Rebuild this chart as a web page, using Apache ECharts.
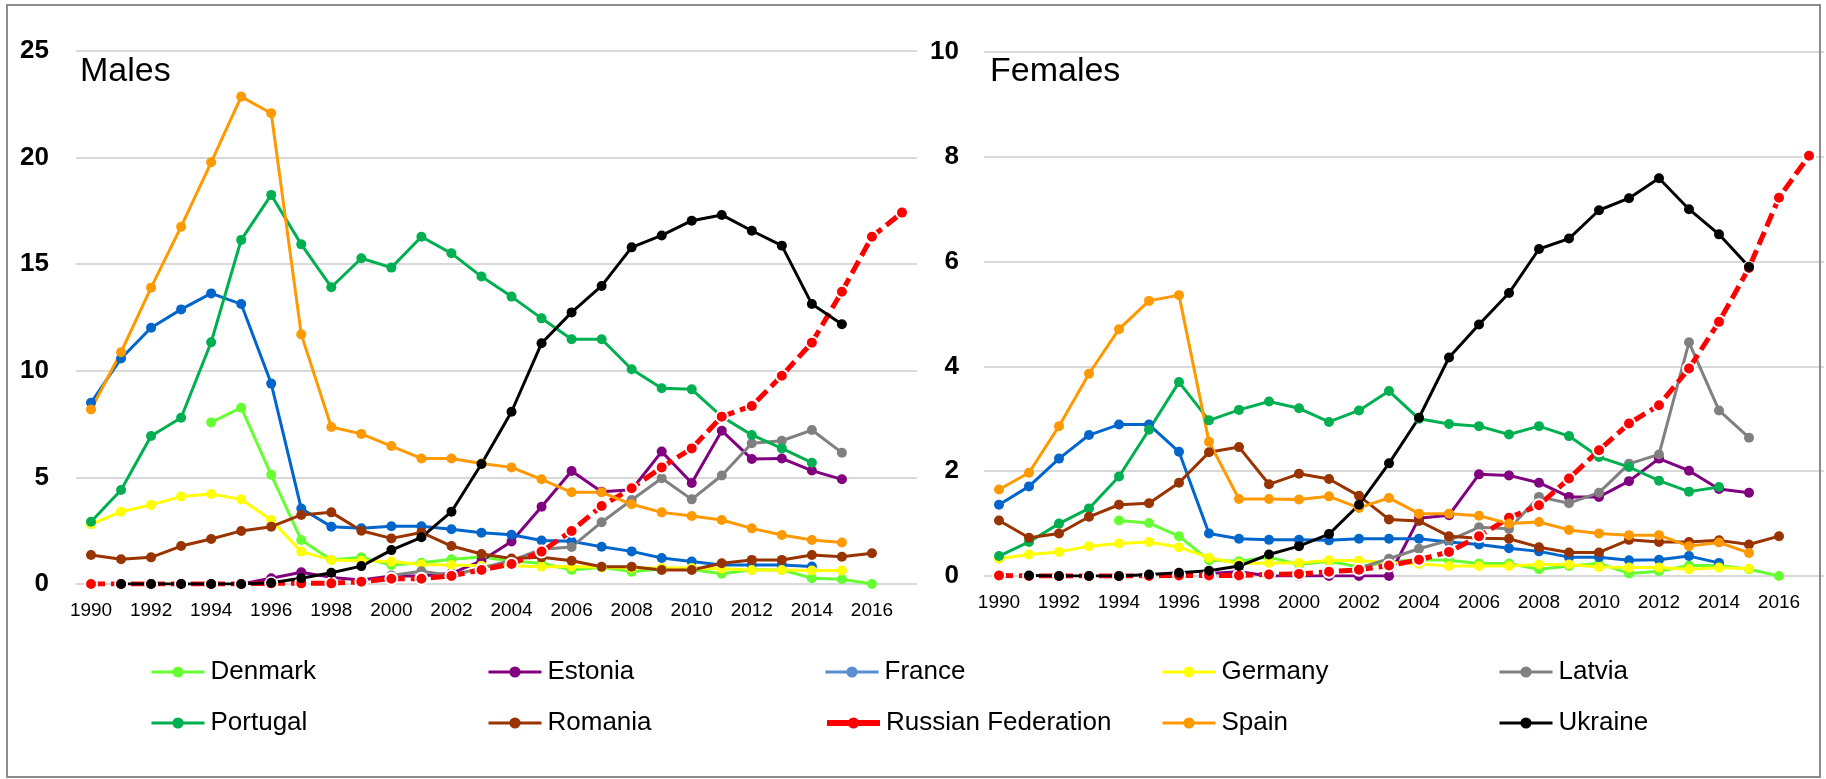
<!DOCTYPE html>
<html>
<head>
<meta charset="utf-8">
<script src="https://cdn.jsdelivr.net/npm/echarts@6/dist/echarts.min.js"></script>
<style>
  html, body { margin: 0; padding: 0; background: #fff; }
  #chart { width: 1826px; height: 779px; }
</style>
</head>
<body>
<div id="chart"></div>
<script>
// ---- Data (rates, 1990..2017) ----
const years = ['1990','1991','1992','1993','1994','1995','1996','1997','1998','1999','2000','2001','2002','2003','2004','2005','2006','2007','2008','2009','2010','2011','2012','2013','2014','2015','2016','2017'];
const countries = ['Denmark','Estonia','France','Germany','Latvia','Portugal','Romania','Russian Federation','Spain','Ukraine'];
const colors = ['#66FF33','#800080','#0066CC','#FFFF00','#808080','#00B050','#993300','#FF0000','#FF9900','#000000'];

// Males
const denmarkM  = [null,null,null,null,7.58,8.27,5.12,2.06,1.13,1.25,0.89,1.0,1.16,1.27,1.08,0.97,0.66,0.78,0.58,0.72,0.68,0.48,0.67,0.66,0.27,0.22,0.0,null];
const estoniaM  = [null,null,null,null,null,0,0.27,0.55,0.31,0.19,0.38,0.38,0.5,1.09,1.99,3.62,5.3,4.33,4.42,6.21,4.74,7.19,5.86,5.89,5.32,4.91,null,null];
const franceM   = [8.5,10.58,12.02,12.88,13.63,13.13,9.4,3.54,2.69,2.61,2.71,2.71,2.57,2.4,2.31,2.04,2.0,1.75,1.53,1.22,1.05,0.89,0.89,0.89,0.82,null,null,null];
const germanyM  = [2.8,3.39,3.71,4.1,4.22,3.97,3.0,1.52,1.13,1.09,1.05,0.92,0.89,0.86,0.86,0.81,0.82,0.78,0.75,0.75,0.75,0.72,0.66,0.66,0.63,0.63,null,null];
const latviaM   = [null,null,null,null,null,null,null,null,null,null,0.4,0.6,0.4,0.75,1.1,1.63,1.74,2.9,3.94,4.96,3.97,5.09,6.6,6.72,7.22,6.16,null,null];
const portugalM = [2.92,4.41,6.94,7.8,11.34,16.14,18.25,15.93,13.92,15.28,14.84,16.29,15.51,14.42,13.48,12.46,11.48,11.48,10.07,9.18,9.13,7.85,6.99,6.36,5.69,null,null,null];
const romaniaM  = [1.36,1.16,1.25,1.78,2.11,2.49,2.69,3.24,3.36,2.5,2.14,2.42,1.78,1.41,1.2,1.25,1.09,0.81,0.81,0.66,0.66,0.97,1.13,1.13,1.36,1.28,1.44,null];
const russiaM   = [0,0,0,0,0,0,0.03,0.03,0.03,0.11,0.25,0.25,0.38,0.66,0.94,1.52,2.49,3.66,4.49,5.47,6.36,7.85,8.35,9.77,11.32,13.71,16.29,17.42];
const spainM    = [8.19,10.87,13.9,16.76,19.78,22.86,22.08,11.71,7.36,7.04,6.47,5.89,5.89,5.65,5.47,4.91,4.3,4.3,3.74,3.36,3.19,3.0,2.61,2.3,2.06,1.95,null,null];
const ukraineM  = [null,0,0,0,0,0,0.06,0.27,0.53,0.84,1.59,2.19,3.39,5.63,8.08,11.29,12.74,13.98,15.79,16.35,17.04,17.31,16.57,15.87,13.13,12.18,null,null];

// Females
const denmarkF  = [null,null,null,null,1.06,1.01,0.76,0.3,0.28,0.36,0.22,0.28,0.17,0.27,0.31,0.3,0.24,0.24,0.13,0.19,0.24,0.05,0.09,0.2,0.2,0.13,0.0,null];
const estoniaF  = [null,null,null,null,null,null,null,0.05,0.08,0,0,0,0,0,1.1,1.16,1.94,1.92,1.78,1.51,1.51,1.81,2.24,2.01,1.66,1.59,null,null];
const franceF   = [1.36,1.71,2.24,2.69,2.89,2.89,2.37,0.81,0.71,0.69,0.69,0.68,0.71,0.71,0.71,0.65,0.6,0.53,0.47,0.36,0.36,0.3,0.31,0.38,0.25,null,null,null];
const germanyF  = [0.33,0.41,0.46,0.57,0.62,0.65,0.55,0.35,0.24,0.25,0.25,0.3,0.29,0.26,0.23,0.19,0.19,0.19,0.22,0.22,0.17,0.16,0.16,0.13,0.16,0.14,null,null];
const latviaF   = [null,null,null,null,null,null,null,null,null,null,null,null,0.15,0.33,0.52,0.68,0.93,0.9,1.51,1.39,1.59,2.14,2.32,4.46,3.16,2.64,null,null];
const portugalF = [0.38,0.65,1.0,1.29,1.9,2.79,3.7,2.97,3.17,3.33,3.2,2.94,3.16,3.53,3.0,2.9,2.86,2.7,2.86,2.67,2.27,2.08,1.82,1.61,1.7,null,null,null];
const romaniaF  = [1.06,0.73,0.81,1.13,1.36,1.39,1.78,2.36,2.46,1.75,1.95,1.85,1.53,1.08,1.05,0.76,0.72,0.71,0.55,0.45,0.45,0.69,0.65,0.65,0.68,0.6,0.76,null];
const russiaF   = [0.01,0,0,0,0,0,0.01,0.01,0.01,0.03,0.04,0.08,0.12,0.2,0.31,0.46,0.76,1.11,1.35,1.86,2.4,2.91,3.26,3.96,4.85,5.88,7.22,8.02];
const spainF    = [1.65,1.97,2.86,3.86,4.71,5.25,5.36,2.56,1.47,1.47,1.46,1.52,1.3,1.49,1.19,1.19,1.15,1.0,1.03,0.88,0.81,0.78,0.78,0.57,0.64,0.44,null,null];
const ukraineF  = [null,0.01,0,0,0,0.03,0.06,0.1,0.19,0.41,0.57,0.8,1.36,2.15,3.02,4.17,4.8,5.4,6.24,6.44,6.98,7.21,7.59,7.0,6.52,5.9,null,null];

const males   = [denmarkM, estoniaM, franceM, germanyM, latviaM, portugalM, romaniaM, russiaM, spainM, ukraineM];
const females = [denmarkF, estoniaF, franceF, germanyF, latviaF, portugalF, romaniaF, russiaF, spainF, ukraineF];

// ---- Chart ----
const NARROW = "'Liberation Sans Narrow', 'Arial Narrow', 'Liberation Sans', Arial, sans-serif";
const SANS = "'Liberation Sans', Arial, sans-serif";

function makeSeries(name, idx, data, gi) {
  const isRussia = name === 'Russian Federation';
  return {
    name: name,
    type: 'line',
    xAxisIndex: gi,
    yAxisIndex: gi,
    data: data,
    connectNulls: false,
    symbol: 'circle',
    symbolSize: isRussia ? 12 : 10,
    showSymbol: true,
    lineStyle: { color: colors[idx], width: isRussia ? 5 : 3, type: isRussia ? [14, 6] : 'solid' },
    itemStyle: isRussia ? { color: colors[idx], borderColor: '#fff', borderWidth: 2 } : { color: colors[idx] },
    emphasis: { disabled: true },
    animation: false
  };
}

const series = [];
countries.forEach((c, i) => series.push(makeSeries(c, i, males[i], 0)));
countries.forEach((c, i) => series.push(makeSeries(c, i, females[i], 1)));

const legendStarts = [150, 487, 824, 1161, 1498];
const legendRows = [659, 710];
const legends = countries.map((c, i) => {
  const isRussia = c === 'Russian Federation';
  const col = c === 'France' ? '#5B8ED0' : colors[i];
  return {
    data: [{ name: c }],
    left: legendStarts[i % 5],
    top: legendRows[Math.floor(i / 5)],
    padding: 0,
    itemGap: 0,
    itemWidth: 53,
    itemHeight: 14,
    selectedMode: false,
    itemStyle: { color: col, borderWidth: 0 },
    lineStyle: { color: col, width: isRussia ? 6 : 3, type: 'solid' },
    textStyle: { fontSize: 26, fontFamily: SANS, color: '#000', padding: [0, 0, 0, 1] }
  };
});

function xAxis(gi) {
  return {
    type: 'category', gridIndex: gi, data: years, boundaryGap: true,
    axisLine: { show: false }, axisTick: { show: false },
    axisLabel: { interval: 1, margin: 17, fontSize: 19, fontFamily: NARROW, color: '#000' },
    splitLine: { show: false }
  };
}
function yAxis(gi, max, interval, margin) {
  return {
    type: 'value', gridIndex: gi, min: 0, max: max, interval: interval,
    axisLine: { show: false }, axisTick: { show: false },
    axisLabel: { margin: margin, fontSize: 26, fontWeight: 'bold', fontFamily: NARROW, color: '#000' },
    splitLine: { show: true, lineStyle: { color: '#D9D9D9', width: 2 } }
  };
}

const option = {
  backgroundColor: '#fff',
  animation: false,
  grid: [
    { left: 76, top: 51, width: 841, height: 533 },
    { left: 984, top: 52, width: 840, height: 524 }
  ],
  xAxis: [xAxis(0), xAxis(1)],
  yAxis: [yAxis(0, 25, 5, 27), yAxis(1, 10, 2, 25)],
  legend: legends,
  series: series,
  graphic: [
    { type: 'rect', shape: { x: 7, y: 5, width: 1813, height: 772 }, style: { fill: 'none', stroke: '#8C8C8C', lineWidth: 2 }, z: 100, silent: true },
    { type: 'text', x: 80, y: 72, style: { text: 'Males', fontSize: 34, fontFamily: NARROW, fill: '#000', verticalAlign: 'middle' }, z: 50 },
    { type: 'text', x: 990, y: 72, style: { text: 'Females', fontSize: 34, fontFamily: NARROW, fill: '#000', verticalAlign: 'middle' }, z: 50 }
  ]
};

const chart = echarts.init(document.getElementById('chart'), null, { renderer: 'canvas' });
chart.setOption(option);
</script>
</body>
</html>
